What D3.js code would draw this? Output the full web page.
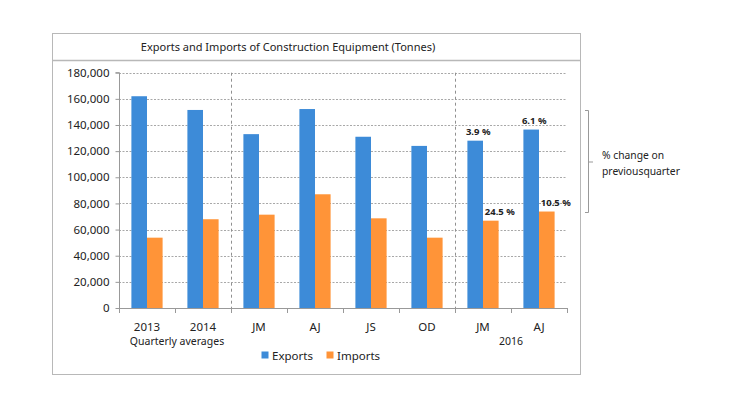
<!DOCTYPE html>
<html>
<head>
<meta charset="utf-8">
<script src="https://cdn.jsdelivr.net/npm/d3@7"></script>
<style>
  body { margin: 0; background: #fff; }
  text { font-family: "Noto Sans", "DejaVu Sans", sans-serif; fill: #222; }
</style>
</head>
<body>
<div id="chart"></div>
<script>
const categories = ["2013", "2014", "JM", "AJ", "JS", "OD", "JM ", "AJ "];
const tickLabels = ["2013", "2014", "JM", "AJ", "JS", "OD", "JM", "AJ"];
const exportsData = [162000, 151500, 133000, 152200, 131000, 124000, 128000, 136500];
const importsData = [53800, 67900, 71400, 87000, 68600, 53800, 66800, 73800];
const seriesNames = ["Exports", "Imports"];
const yTicks = [0, 20000, 40000, 60000, 80000, 100000, 120000, 140000, 160000, 180000];
// % change labels: [category index, series, text]
const pctLabels = [
  [6, 0, "3.9 %"], [7, 0, "6.1 %"],
  [6, 1, "24.5 %"], [7, 1, "10.5 %"]
];

const width = 730, height = 417;
const colors = ["#3d8bd8", "#ff9438"];

const svg = d3.select("#chart").append("svg")
  .attr("width", width)
  .attr("height", height);

// outer frame and title row
svg.append("rect")
  .attr("x", 52.5).attr("y", 33.5)
  .attr("width", 528).attr("height", 341)
  .attr("fill", "none").attr("stroke", "#b8b8b8");
svg.append("line")
  .attr("x1", 52.5).attr("x2", 580.5)
  .attr("y1", 60.5).attr("y2", 60.5)
  .attr("stroke", "#b8b8b8").attr("stroke-width", 1.5);
svg.append("text")
  .attr("x", 288).attr("y", 51)
  .attr("text-anchor", "middle")
  .style("font-size", "11px")
  .text("Exports and Imports of Construction Equipment (Tonnes)");

const x = d3.scaleBand().domain(categories).range([119, 567]);
const y = d3.scaleLinear().domain([0, 180000]).range([308, 72.7]);
const barW = 15.6;

// gridlines
svg.append("g")
  .selectAll("line")
  .data(yTicks.filter(d => d > 0))
  .join("line")
  .attr("x1", 119).attr("x2", 567)
  .attr("y1", d => Math.round(y(d)) + 0.5)
  .attr("y2", d => Math.round(y(d)) + 0.5)
  .attr("stroke", "#a8a8a8")
  .attr("stroke-dasharray", "2,1.5");

// dashed dividers between groups
svg.append("g")
  .selectAll("line")
  .data([categories[2], categories[6]])
  .join("line")
  .attr("x1", d => Math.round(x(d)) + 0.5)
  .attr("x2", d => Math.round(x(d)) + 0.5)
  .attr("y1", y(180000)).attr("y2", 313)
  .attr("stroke", "#909090")
  .attr("stroke-dasharray", "3,3");

// bars
const groups = svg.append("g")
  .selectAll("g")
  .data(categories.map((c, i) => ({ c, v: [exportsData[i], importsData[i]] })))
  .join("g");

groups.selectAll("rect")
  .data(d => d.v.map((v, s) => ({ c: d.c, v, s })))
  .join("rect")
  .attr("x", d => x(d.c) + x.bandwidth() / 2 - barW + d.s * barW)
  .attr("y", d => y(d.v))
  .attr("width", barW)
  .attr("height", d => y(0) - y(d.v))
  .attr("fill", d => colors[d.s]);

// y axis
const yAxis = svg.append("g")
  .attr("transform", "translate(119.5,0)")
  .call(d3.axisLeft(y).tickValues(yTicks).tickSize(4).tickPadding(6)
    .tickFormat(d3.format(",")));
yAxis.select(".domain").attr("stroke", "#999").attr("d", `M-4,${y(180000)}H0V${y(0)}`);
yAxis.selectAll(".tick line").attr("stroke", "#999");
yAxis.selectAll("text").style("font-size", "11.5px").style("fill", "#222");

// x axis line and boundary ticks
svg.append("line")
  .attr("x1", 119).attr("x2", 567)
  .attr("y1", 308.5).attr("y2", 308.5)
  .attr("stroke", "#999");
svg.append("g")
  .selectAll("line")
  .data(d3.range(categories.length + 1))
  .join("line")
  .attr("x1", i => Math.round(119 + i * x.step()) + 0.5)
  .attr("x2", i => Math.round(119 + i * x.step()) + 0.5)
  .attr("y1", 308).attr("y2", 313)
  .attr("stroke", "#999");

svg.append("g")
  .selectAll("text")
  .data(categories)
  .join("text")
  .attr("x", d => x(d) + x.bandwidth() / 2)
  .attr("y", 331)
  .attr("text-anchor", "middle")
  .style("font-size", "11.5px")
  .text((d, i) => tickLabels[i]);

svg.append("text")
  .attr("x", 177).attr("y", 345)
  .attr("text-anchor", "middle")
  .style("font-size", "10.5px")
  .text("Quarterly averages");
svg.append("text")
  .attr("x", 511).attr("y", 345)
  .attr("text-anchor", "middle")
  .style("font-size", "10.5px")
  .text("2016");

// percentage labels
svg.append("g")
  .selectAll("text")
  .data(pctLabels)
  .join("text")
  .attr("x", d => x(categories[d[0]]) + x.bandwidth() / 2 + (d[1] === 0 ? -barW / 2 + 3 : barW / 2 + 9))
  .attr("y", d => y(d[1] === 0 ? exportsData[d[0]] : importsData[d[0]]) - 6)
  .attr("text-anchor", "middle")
  .style("font-size", "9.5px")
  .style("font-weight", "bold")
  .text(d => d[2]);

// legend
const legend = svg.append("g")
  .selectAll("g")
  .data(seriesNames)
  .join("g")
  .attr("transform", (d, i) => `translate(${261.5 + i * 65},351.5)`);
legend.append("rect")
  .attr("width", 7).attr("height", 7)
  .attr("fill", (d, i) => colors[i]);
legend.append("text")
  .attr("x", 10.5).attr("y", 8)
  .style("font-size", "11.5px")
  .text(d => d);

// bracket for % change note
svg.append("path")
  .attr("d", "M585,110.5H588.5V212.5H585M588.5,162H593")
  .attr("fill", "none")
  .attr("stroke", "#999");
svg.append("text")
  .attr("x", 602).attr("y", 159)
  .style("font-size", "10.3px")
  .text("% change on");
svg.append("text")
  .attr("x", 602).attr("y", 174.5)
  .style("font-size", "10.3px")
  .text("previousquarter");
</script>
</body>
</html>
